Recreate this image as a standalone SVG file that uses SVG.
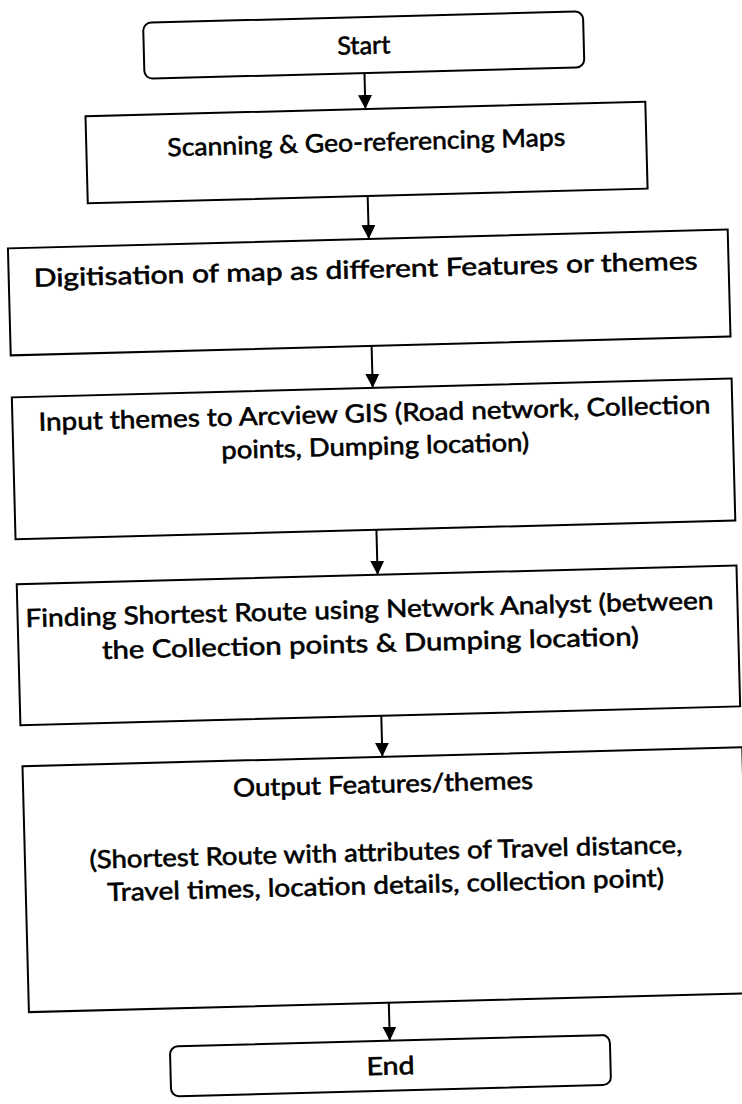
<svg xmlns="http://www.w3.org/2000/svg" width="742" height="1104" viewBox="0 0 742 1104">
  <style>
    .box { fill: #ffffff; stroke: #000000; stroke-width: 2; }
    .term { fill: #ffffff; stroke: #000000; stroke-width: 2; }
    .flow { fill: none; stroke: #000000; stroke-width: 2; marker-end: url(#arrow); }
    .lbl { font-family: "Lato", "Open Sans", "Liberation Sans", sans-serif; font-size: 25px; font-weight: normal; fill: #000000; stroke: #000000; stroke-width: 0.6; text-anchor: middle; }
  </style>
  <defs>
    <marker id="arrow" viewBox="0 0 12 14" refX="14" refY="7" markerWidth="12" markerHeight="14" markerUnits="userSpaceOnUse" orient="auto">
      <path d="M0,0 L14,7 L0,14 z" fill="#000000"/>
    </marker>
  </defs>
  <rect width="742" height="1104" fill="#ffffff"/>
  <!-- whole chart is slightly tilted -->
  <g transform="rotate(-1.5 371 552)">
    <g id="connectors">
      <line class="flow" x1="377" y1="73" x2="377" y2="109"/>
      <line class="flow" x1="377" y1="196" x2="377" y2="239"/>
      <line class="flow" x1="377" y1="346" x2="377" y2="388"/>
      <line class="flow" x1="377" y1="530" x2="377" y2="575"/>
      <line class="flow" x1="377" y1="716" x2="377" y2="757"/>
      <line class="flow" x1="377" y1="1003" x2="377" y2="1041"/>
    </g>
    <g id="start">
      <rect class="term" x="157" y="17" width="440" height="56" rx="8"/>
      <text class="lbl" x="377" y="54" textLength="53" lengthAdjust="spacingAndGlyphs">Start</text>
    </g>
    <g id="scan">
      <rect class="box" x="97" y="109" width="560" height="87"/>
      <text class="lbl" x="377" y="151" textLength="398" lengthAdjust="spacingAndGlyphs">Scanning &amp; Geo-referencing Maps</text>
    </g>
    <g id="digitise">
      <rect class="box" x="16" y="239" width="720" height="107"/>
      <text class="lbl" x="373" y="278" textLength="664" lengthAdjust="spacingAndGlyphs">Digitisation of map as different Features or themes</text>
    </g>
    <g id="input">
      <rect class="box" x="16" y="388" width="720" height="142"/>
      <text class="lbl" x="378" y="422" textLength="672" lengthAdjust="spacingAndGlyphs">Input themes to Arcview GIS (Road network, Collection</text>
      <text class="lbl" x="378" y="455" textLength="308" lengthAdjust="spacingAndGlyphs">points, Dumping location)</text>
    </g>
    <g id="route">
      <rect class="box" x="16" y="575" width="720" height="141"/>
      <text class="lbl" x="368" y="618" textLength="688" lengthAdjust="spacingAndGlyphs">Finding Shortest Route using Network Analyst (between</text>
      <text class="lbl" x="368" y="652" textLength="537" lengthAdjust="spacingAndGlyphs">the Collection points &amp; Dumping location)</text>
    </g>
    <g id="output">
      <rect class="box" x="17" y="757" width="720" height="246"/>
      <text class="lbl" x="377" y="793" textLength="300" lengthAdjust="spacingAndGlyphs">Output Features/themes</text>
      <text class="lbl" x="378" y="861" textLength="593" lengthAdjust="spacingAndGlyphs">(Shortest Route with attributes of Travel distance,</text>
      <text class="lbl" x="377" y="894" textLength="557" lengthAdjust="spacingAndGlyphs">Travel times, location details, collection point)</text>
    </g>
    <g id="end">
      <rect class="term" x="157" y="1041" width="440" height="50" rx="8"/>
      <text class="lbl" x="377" y="1075" textLength="48" lengthAdjust="spacingAndGlyphs">End</text>
    </g>
  </g>
</svg>
